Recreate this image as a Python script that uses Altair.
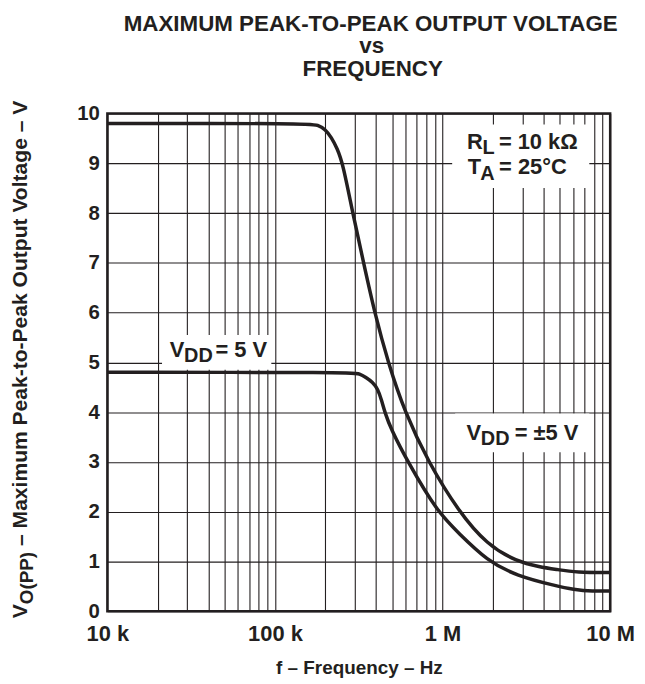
import altair as alt
import pandas as pd

INK = "#231f20"
FONT = "Liberation Sans"

# ---- data ----
# V_DD = ±5 V curve
freq_pm5 = [1e4, 1.6e5, 1.8e5, 2.0e5, 2.17e5, 2.35e5, 2.54e5, 2.91e5, 3.38e5, 3.93e5,
            4.73e5, 5.95e5, 8.21e5, 1.25e6, 1.84e6, 2.77e6, 3.8e6, 4.8e6, 6.3e6, 1e7]
v_pm5 = [9.8, 9.8, 9.77, 9.68, 9.52, 9.3, 9.0, 8.0, 7.0, 6.0,
         5.0, 4.0, 3.0, 2.0, 1.34, 1.0, 0.89, 0.84, 0.78, 0.78]

# V_DD = 5 V curve
freq_5 = [1e4, 2.91e5, 3.2e5, 3.48e5, 3.83e5, 4.1e5, 4.32e5, 4.52e5, 4.91e5, 6.2e5,
          9.29e5, 1.25e6, 1.84e6, 2.77e6, 4.78e6, 6.0e6, 7.89e6, 1e7]
v_5 = [4.8, 4.8, 4.77, 4.70, 4.60, 4.47, 4.25, 4.0, 3.67, 3.0,
       2.0, 1.57, 1.02, 0.71, 0.51, 0.44, 0.40, 0.41]

# axis values / labels
grid_freq = [1e4, 2e4, 3e4, 4e4, 5e4, 6e4, 7e4, 8e4, 9e4,
             1e5, 2e5, 3e5, 4e5, 5e5, 6e5, 7e5, 8e5, 9e5,
             1e6, 2e6, 3e6, 4e6, 5e6, 6e6, 7e6, 8e6, 9e6, 1e7]
x_label_values = [10000, 100000, 1000000, 10000000]
x_label_text = ["10 k", "100 k", "1 M", "10 M"]
y_ticks = [0, 1, 2, 3, 4, 5, 6, 7, 8, 9, 10]

label_expr = "".join(
    f"datum.value == {v} ? '{t}' : " for v, t in zip(x_label_values, x_label_text)
) + "''"

df = pd.DataFrame({
    "f": freq_pm5 + freq_5,
    "v": v_pm5 + v_5,
    "s": ["pm5"] * len(freq_pm5) + ["5"] * len(freq_5),
})

curves = alt.Chart(df).mark_line(
    interpolate="basis", color=INK, strokeWidth=3.5
).encode(
    x=alt.X("f:Q",
            scale=alt.Scale(type="log", domain=[1e4, 1e7], nice=False),
            axis=alt.Axis(values=grid_freq, grid=True, gridColor=INK, gridWidth=1.1,
                          gridOpacity=1, ticks=False, tickSize=0, domain=False,
                          labelExpr=label_expr, labelOverlap=False, labelFlush=False,
                          labelPadding=12, labelFontSize=22, labelFont=FONT,
                          labelFontWeight="bold", labelColor=INK, title=None)),
    y=alt.Y("v:Q",
            scale=alt.Scale(domain=[0, 10], nice=False),
            axis=alt.Axis(values=y_ticks, grid=True, gridColor=INK, gridWidth=1.1,
                          gridOpacity=1, ticks=False, tickSize=0, domain=False,
                          format="d", labelPadding=8, labelFontSize=20.5, labelFont=FONT,
                          labelFontWeight="bold", labelColor=INK, title=None)),
    detail="s:N",
)

anchor = pd.DataFrame({"k": [0]})


def piece(text, x, y, dx=0, dy=0, size=22, angle=0, align="left"):
    return alt.Chart(anchor).mark_text(
        text=text, dx=dx, dy=dy, fontSize=size, angle=angle, align=align,
        baseline="alphabetic", font=FONT, fontWeight="bold", color=INK
    ).encode(x=alt.value(x), y=alt.value(y))


def blank(x1, x2, y1, y2):
    return alt.Chart(anchor).mark_rect(color="white").encode(
        x=alt.value(x1), x2=alt.value(x2), y=alt.value(y1), y2=alt.value(y2))


layers = [
    curves,
    blank(347, 485, 11, 75),
    blank(55, 165, 223, 258),
    blank(350, 485, 302, 341),
    # R_L = 10 kΩ
    piece("R", 362, 35.3),
    piece("L", 362, 35.3, dx=15.5, dy=5.4, size=20),
    piece("= 10 kΩ", 362, 35.3, dx=32),
    # T_A = 25°C
    piece("T", 362.7, 61.3),
    piece("A", 362.7, 61.3, dx=12.5, dy=6, size=20),
    piece("= 25°C", 362.7, 61.3, dx=31.5),
    # V_DD = 5 V
    piece("V", 62.7, 244.7),
    piece("DD", 62.7, 244.7, dx=14.5, dy=5.6, size=20),
    piece("= 5 V", 62.7, 244.7, dx=46),
    # V_DD = ±5 V
    piece("V", 361.3, 328.7),
    piece("DD", 361.3, 328.7, dx=14.5, dy=5, size=20),
    piece("= ±5 V", 361.3, 328.7, dx=48.7),
    # titles
    piece("MAXIMUM PEAK-TO-PEAK OUTPUT VOLTAGE", 265, -83.5, size=22.5, align="center"),
    piece("vs", 266, -60.5, size=22.5, align="center"),
    piece("FREQUENCY", 267, -37.5, size=22.5, align="center"),
    piece("f – Frequency – Hz", 253.6, 564, size=19, align="center"),
    # y title (rotated)
    piece("V", -81.3, 508, size=21.2, angle=270),
    piece("O(PP)", -81.3, 508, dx=14.1, dy=6.6, size=19, angle=270),
    piece("– Maximum Peak-to-Peak Output Voltage – V", -81.3, 508, dx=72.8,
          size=21.2, angle=270),
]

chart = alt.layer(*layers).properties(
    width=506, height=501,
    autosize=alt.AutoSizeParams(type="none"),
    padding={"left": 100, "top": 104, "right": 27, "bottom": 71},
    background="white",
).configure_view(stroke=INK, strokeWidth=2.5, fill="white")

chart.save("out.html", embed_options={"renderer": "svg", "actions": False})
